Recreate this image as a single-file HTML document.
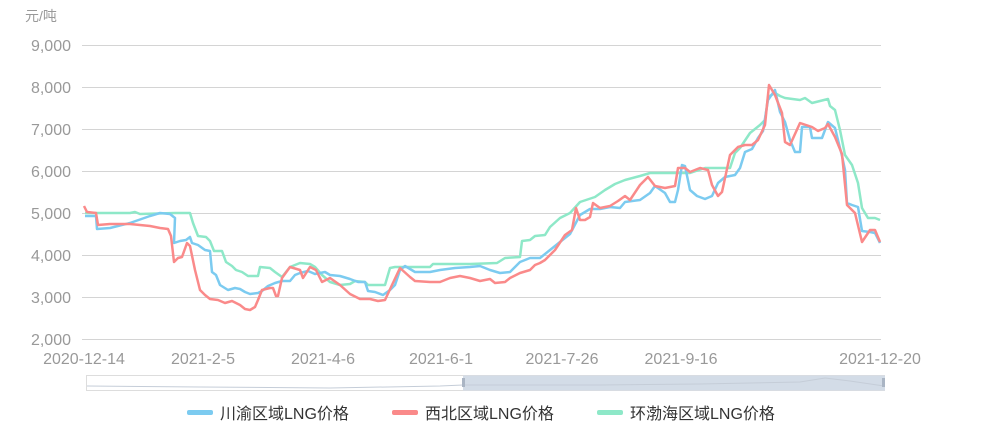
<!DOCTYPE html>
<html><head><meta charset="utf-8"><style>
body{margin:0;background:#fff;}
svg text{font-family:"Liberation Sans","Noto Sans CJK SC",sans-serif;}
</style></head><body>
<svg width="1001" height="442" xmlns="http://www.w3.org/2000/svg">
<text x="25" y="21" font-size="14" fill="#999">元/吨</text>
<g stroke="#d4d4d4" stroke-width="1">
<line x1="82" y1="45.5" x2="881" y2="45.5"/><line x1="82" y1="87.5" x2="881" y2="87.5"/><line x1="82" y1="129.5" x2="881" y2="129.5"/><line x1="82" y1="171.5" x2="881" y2="171.5"/><line x1="82" y1="213.5" x2="881" y2="213.5"/><line x1="82" y1="255.5" x2="881" y2="255.5"/><line x1="82" y1="297.5" x2="881" y2="297.5"/><line x1="82" y1="339.5" x2="881" y2="339.5"/>
</g>
<g font-size="16" fill="#999" text-anchor="end">
<text x="71" y="51">9,000</text><text x="71" y="93">8,000</text><text x="71" y="135">7,000</text><text x="71" y="177">6,000</text><text x="71" y="219">5,000</text><text x="71" y="261">4,000</text><text x="71" y="303">3,000</text><text x="71" y="345">2,000</text>
</g>
<g font-size="16" fill="#999" text-anchor="middle">
<text x="84" y="364">2020-12-14</text><text x="203" y="364">2021-2-5</text><text x="323" y="364">2021-4-6</text><text x="441" y="364">2021-6-1</text><text x="562" y="364">2021-7-26</text><text x="681" y="364">2021-9-16</text><text x="880" y="364">2021-12-20</text>
</g>
<g fill="none" stroke-width="2.5" stroke-linejoin="round">
<polyline stroke="#8ee8c8" points="85,213 130,213 135,212 140,214 175,213 190,213 193,223 198,236 206,237 210,241 214,251 222,251 226,262 232,266 236,270 242,272 248,276 258,276 260,267 270,268 275,272 282,277 290,267 300,263 310,264 315,267 322,275 330,282 340,285 350,284 355,281 365,282 368,285 385,285 390,268 395,267 430,267 433,264 470,264 497,263 505,258 520,257 522,241 530,240 535,236 545,235 550,227 560,218 570,213 580,202 595,197 605,190 615,184 625,180 640,176 650,173 690,173 705,168 730,168 735,153 740,148 750,133 760,125 765,120 768,97 775,93 780,96 785,98 800,100 805,98 812,103 820,101 828,99 830,106 835,110 840,130 845,155 852,165 858,183 862,208 868,218 875,218 880,220"/>
<polyline stroke="#7ccbf0" points="85,216 96,216 97,229 110,228 130,223 150,216 160,213 170,214 175,218 174,243 180,241 186,240 190,237 192,243 198,245 205,250 210,251 212,272 216,275 220,285 228,290 235,288 240,289 245,292 250,294 258,293 262,291 268,286 275,283 282,281 290,281 295,275 300,273 308,271 315,274 320,273 325,272 330,275 340,276 350,279 358,282 365,282 368,291 375,292 383,295 390,290 395,285 400,270 405,266 415,272 430,272 440,270 455,268 470,267 480,266 490,270 500,273 510,272 515,267 520,262 530,258 540,258 550,250 560,242 570,234 580,215 590,209 600,209 610,207 620,208 625,202 640,200 650,193 655,186 665,193 670,202 675,202 678,190 682,165 685,166 690,190 697,196 705,199 712,196 718,183 725,177 735,175 740,168 745,152 752,149 758,138 763,131 768,100 775,90 780,112 785,122 790,140 795,152 800,152 802,127 810,127 812,138 822,138 828,122 835,128 842,156 845,170 847,203 852,205 858,207 862,231 870,232 875,233 880,243"/>
<polyline stroke="#fa8a8a" points="84,206 87,212 96,213 98,225 110,224 130,224 140,225 150,226 160,228 168,229 171,236 174,262 178,258 182,257 187,243 190,246 195,270 200,290 205,295 210,299 218,300 225,303 232,301 240,305 245,309 250,310 255,307 258,300 262,290 270,288 273,288 276,296 278,296 282,278 290,267 300,270 303,278 310,267 316,270 322,282 330,278 340,285 350,294 360,299 370,299 378,301 385,300 392,285 400,268 410,277 415,281 430,282 440,282 450,278 460,276 470,278 480,281 490,279 495,283 505,282 510,278 520,273 530,270 535,265 540,263 545,260 555,250 565,235 572,230 576,208 580,220 585,220 590,217 593,203 600,208 610,206 618,201 625,196 630,200 640,185 648,177 655,186 665,188 675,186 678,168 685,168 690,172 700,168 708,170 712,185 718,196 722,192 730,155 738,147 745,145 752,145 758,140 765,125 769,85 775,95 782,113 785,142 790,145 800,123 812,127 818,131 825,128 828,124 835,137 842,154 847,205 855,213 862,242 870,230 875,230 880,242"/>
</g>
<rect x="86.5" y="375.5" width="798" height="15" fill="none" stroke="#ddd"/>
<rect x="463" y="375.5" width="422" height="15" fill="#d3dce7"/>
<polyline fill="none" stroke="#c5cdd8" stroke-width="1" points="87,386 200,387 330,388 440,386 463,385 600,385 700,384 800,382 825,378 850,381 884,386"/>
<rect x="462" y="378" width="3" height="9" fill="#aab5c4"/><rect x="882" y="378" width="3" height="9" fill="#aab5c4"/>
<g font-size="16" fill="#333">
<rect x="187" y="410" width="26" height="5" rx="2" fill="#7ccbf0"/><text x="220" y="419">川渝区域LNG价格</text>
<rect x="392" y="410" width="26" height="5" rx="2" fill="#fa8a8a"/><text x="425" y="419">西北区域LNG价格</text>
<rect x="597" y="410" width="26" height="5" rx="2" fill="#8ee8c8"/><text x="630" y="419">环渤海区域LNG价格</text>
</g>
</svg>
</body></html>
